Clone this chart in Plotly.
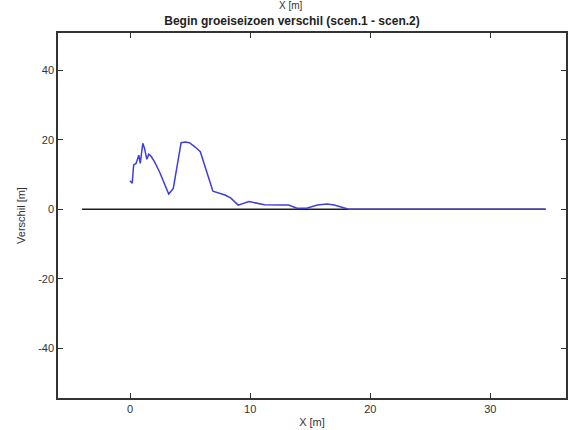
import plotly.graph_objects as go

# Difference profile (scen.1 - scen.2)
x_diff = [0.0, 0.18, 0.3, 0.5, 0.73, 0.85, 1.06, 1.2, 1.4, 1.56, 1.76, 2.03, 2.45, 2.86, 3.05, 3.22,
          3.6, 4.25, 4.6, 4.94, 5.4, 5.85, 6.9, 7.9, 8.4, 9.0, 9.9, 10.7, 11.2, 12.7, 13.2, 13.9,
          14.7, 15.6, 16.4, 17.0, 17.8, 18.2, 20.0, 25.0, 30.0, 34.6]
y_diff = [8.2, 7.5, 12.8, 13.2, 15.6, 13.2, 19.0, 17.6, 14.4, 15.9, 15.2, 13.7, 10.8, 7.5, 5.5, 4.4,
          6.0, 19.2, 19.4, 19.2, 18.0, 16.6, 5.2, 4.1, 3.2, 1.2, 2.2, 1.7, 1.3, 1.2, 1.2, 0.3,
          0.3, 1.2, 1.5, 1.2, 0.3, 0.0, 0.0, 0.0, 0.0, 0.0]

# Zero reference line
x_zero = [-4.0, 34.6]
y_zero = [0.0, 0.0]

x_ticks = [0, 10, 20, 30]
y_ticks = [-40, -20, 0, 20, 40]
y_ticktext = ["-40", "-20", "0", "20", "40"]

fig = go.Figure()
fig.add_trace(go.Scatter(x=x_zero, y=y_zero, mode="lines",
                         line=dict(color="#1e1e1e", width=1.5), showlegend=False))
fig.add_trace(go.Scatter(x=x_diff, y=y_diff, mode="lines",
                         line=dict(color="#3f3fd6", width=1.5), showlegend=False))

axis_common = dict(showgrid=False, zeroline=False, showline=True, linecolor="#333333",
                   linewidth=1.5, mirror="allticks", ticks="inside", ticklen=5,
                   tickcolor="#333333", tickfont=dict(family="Liberation Sans, Arial", size=11, color="#333333"))

fig.update_layout(
    width=570, height=430,
    margin=dict(l=58, r=2, t=33, b=32),
    paper_bgcolor="white", plot_bgcolor="white",
    font=dict(family="Liberation Sans, Arial", size=11, color="#333333"),
    title=dict(text="<b>Begin groeiseizoen verschil (scen.1 - scen.2)</b>",
               x=292/570, xanchor="center", y=1 - 21/430, yanchor="middle",
               font=dict(size=12, color="#222222")),
    xaxis=dict(range=[-6.0, 36.3], tickvals=x_ticks,
               title=dict(text="X [m]", standoff=4, font=dict(size=11)), **axis_common),
    yaxis=dict(range=[-54.4, 50.8], tickvals=y_ticks, ticktext=y_ticktext,
               title=dict(text="Verschil [m]", standoff=10, font=dict(size=11)), **axis_common),
    annotations=[dict(text="X [m]", xref="paper", yref="paper", x=(292-58)/510, y=1 + 27/365,
                      xanchor="center", yanchor="middle", showarrow=False,
                      font=dict(size=10, color="#333333"))],
)

fig.write_html("out.html")
